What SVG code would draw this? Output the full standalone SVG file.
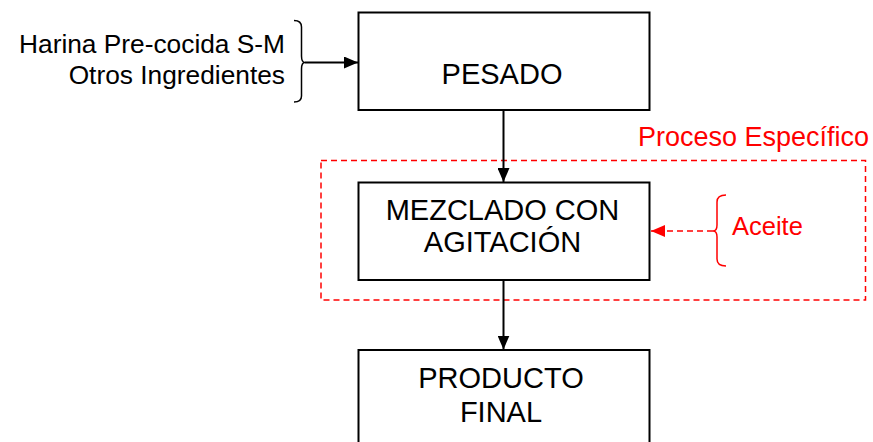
<svg xmlns="http://www.w3.org/2000/svg" width="873" height="442" viewBox="0 0 873 442">
<style>
.box{fill:#fff;stroke:#000;stroke-width:2}
.t{font-family:"Liberation Sans",Arial,sans-serif;font-size:29px;fill:#000;text-anchor:middle}
.s{font-family:"Liberation Sans",Arial,sans-serif;font-size:27px;fill:#000}
.sl{font-size:26.3px}
.sa{font-size:25.5px}
.r{fill:#ff0000}
.ln{stroke:#000;stroke-width:2;fill:none}
.rd{stroke:#ff0000;stroke-width:1.5;fill:none;stroke-dasharray:6 4}
.br{stroke:#000;stroke-width:1.5;fill:none}
.brr{stroke:#ff0000;stroke-width:1.5;fill:none}
</style>
<defs>
<marker id="ah" markerWidth="14" markerHeight="12" refX="14" refY="6" orient="auto" markerUnits="userSpaceOnUse">
<path d="M0,0 L14,6 L0,12 Z" fill="#000"/>
</marker>
<marker id="ahr" markerWidth="14" markerHeight="12" refX="14" refY="6" orient="auto" markerUnits="userSpaceOnUse">
<path d="M0,0 L14,6 L0,12 Z" fill="#ff0000"/>
</marker>
</defs>
<g id="proceso-especifico">
<rect x="321" y="160.5" width="544.5" height="139.5" class="rd"/>
<text x="638" y="146" class="s r">Proceso Específico</text>
</g>
<g id="connectors">
<line x1="305" y1="62.5" x2="358" y2="62.5" class="ln" marker-end="url(#ah)"/>
<line x1="503.5" y1="110" x2="503.5" y2="182" class="ln" marker-end="url(#ah)"/>
<line x1="503.5" y1="280" x2="503.5" y2="349.5" class="ln" marker-end="url(#ah)"/>
<line x1="713" y1="231" x2="651" y2="231" class="rd" marker-end="url(#ahr)"/>
</g>
<g id="entradas">
<text x="285" y="53" class="s sl" text-anchor="end">Harina Pre-cocida S-M</text>
<text x="285" y="84" class="s sl" text-anchor="end">Otros Ingredientes</text>
<path d="M294,20.5 Q301.5,20.5 301.5,27 L301.5,56 Q301.5,62.5 305,62.5 Q301.5,62.5 301.5,69 L301.5,96 Q301.5,102 294,102" class="br"/>
</g>
<g id="aceite">
<path d="M726,195 Q717,195 717,202 L717,225 Q717,231 713,231 Q717,231 717,237 L717,259 Q717,266 726,266" class="brr"/>
<text x="732" y="235" class="s sa r">Aceite</text>
</g>
<g id="pesado">
<rect x="358.5" y="12.5" width="291" height="97.5" class="box"/>
<text x="502" y="84" class="t">PESADO</text>
</g>
<g id="mezclado">
<rect x="358.5" y="182.5" width="291" height="97.5" class="box"/>
<text x="502.5" y="219.5" class="t">MEZCLADO CON</text>
<text x="502.5" y="252" class="t">AGITACIÓN</text>
</g>
<g id="producto">
<rect x="358.5" y="350" width="291" height="110" class="box"/>
<text x="501" y="387.5" class="t">PRODUCTO</text>
<text x="501" y="421.5" class="t">FINAL</text>
</g>
</svg>
